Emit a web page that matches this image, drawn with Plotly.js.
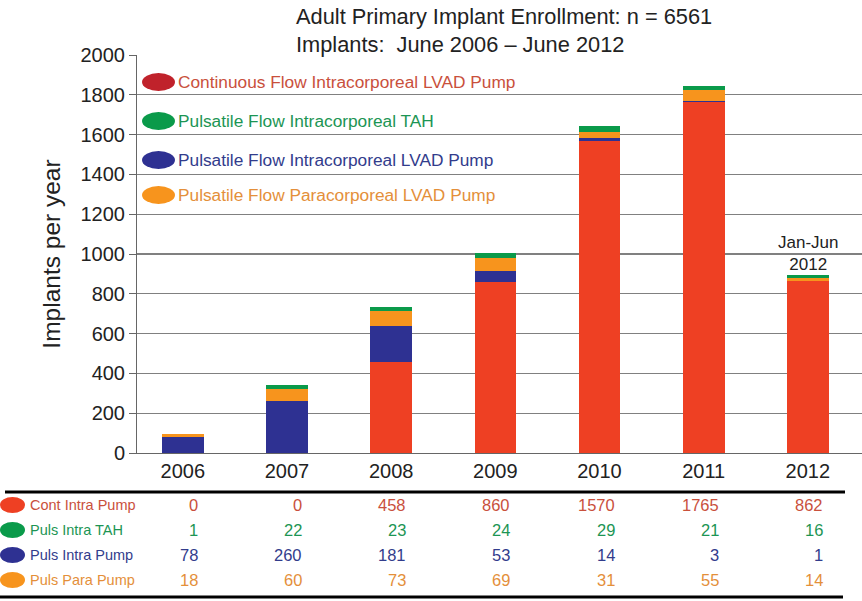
<!DOCTYPE html>
<html><head><meta charset="utf-8">
<script src="https://cdn.plot.ly/plotly-3.0.1.min.js"></script>
<style>html,body{margin:0;padding:0;background:#fff}</style>
</head><body>
<div id="chart" style="width:862px;height:601px"></div>
<script>
const years = ['2006','2007','2008','2009','2010','2011','2012'];
const contIntraPump = [0, 0, 458, 860, 1570, 1765, 862];
const pulsIntraTAH = [1, 22, 23, 24, 29, 21, 16];
const pulsIntraPump = [78, 260, 181, 53, 14, 3, 1];
const pulsParaPump = [18, 60, 73, 69, 31, 55, 14];
const legendNames = ['Continuous Flow Intracorporeal LVAD Pump','Pulsatile Flow Intracorporeal TAH','Pulsatile Flow Intracorporeal LVAD Pump','Pulsatile Flow Paracorporeal LVAD Pump'];
const rowNames = ['Cont Intra Pump','Puls Intra TAH','Puls Intra Pump','Puls Para Pump'];

const W = 862, H = 601, L = 137, R = 0, T = 55, B = 148;
const pw = W - L - R, ph = H - T - B;
const px = p => (p - L) / pw;
const py = p => (H - B - p) / ph;

const barCol = {red:'#EE4023', blue:'#2E3192', orange:'#F7941D', green:'#0A9A4A'};
const txtCol = {red:'#C9503C', green:'#1C9554', blue:'#323C8C', orange:'#E48F3A'};
const legDot = ['#C0222B', '#0A9A4A', '#2E3192', '#F7941D'];
const tabDot = ['#EE4023', '#0A9A4A', '#2E3192', '#F7941D'];
const rowTxt = [txtCol.red, txtCol.green, txtCol.blue, txtCol.orange];

const traces = [
  {type:'bar', x:years, y:contIntraPump, name:rowNames[0], marker:{color:barCol.red}},
  {type:'bar', x:years, y:pulsIntraPump, name:rowNames[2], marker:{color:barCol.blue}},
  {type:'bar', x:years, y:pulsParaPump, name:rowNames[3], marker:{color:barCol.orange}},
  {type:'bar', x:years, y:pulsIntraTAH, name:rowNames[1], marker:{color:barCol.green}}
];

const font = "'Liberation Sans', Arial, sans-serif";
const annotations = [];
const shapes = [];

// title
annotations.push({xref:'paper', yref:'paper', x:px(294), y:py(2), xanchor:'left', yanchor:'top', align:'left',
  text:'Adult Primary Implant Enrollment: n = 6561<br>Implants:  June 2006 – June 2012', showarrow:false,
  font:{family:font, size:21.8, color:'#222'}});

// Jan-Jun note
annotations.push({xref:'x', yref:'paper', x:years.indexOf('2012'), y:py(231), xanchor:'center', yanchor:'top',
  text:'Jan-Jun<br>2012', showarrow:false, font:{family:font, size:17, color:'#222'}});

// legend
const legY = [82, 121, 160, 195];
legendNames.forEach((n, i) => {
  shapes.push({type:'circle', xref:'paper', yref:'paper', x0:px(142), x1:px(175), y0:py(legY[i]-9), y1:py(legY[i]+9),
    fillcolor:legDot[i], line:{width:0}, layer:'above'});
  annotations.push({xref:'paper', yref:'paper', x:px(176), y:py(legY[i]), xanchor:'left', yanchor:'middle',
    text:n, showarrow:false, font:{family:font, size:17.3, color:rowTxt[i]}});
});

// table
const rowY = [505, 530, 555, 580];
const rowVals = [contIntraPump, pulsIntraTAH, pulsIntraPump, pulsParaPump];
rowNames.forEach((n, i) => {
  shapes.push({type:'circle', xref:'paper', yref:'paper', x0:px(0), x1:px(25), y0:py(rowY[i]-8), y1:py(rowY[i]+8),
    fillcolor:tabDot[i], line:{width:0}});
  annotations.push({xref:'paper', yref:'paper', x:px(28), y:py(rowY[i]), xanchor:'left', yanchor:'middle',
    text:n, showarrow:false, font:{family:font, size:14.5, color:rowTxt[i]}});
  rowVals[i].forEach((v, j) => {
    annotations.push({xref:'x', yref:'paper', x:j, xshift:17, y:py(rowY[i]), xanchor:'right', yanchor:'middle',
      text:String(v), showarrow:false, font:{family:font, size:16.5, color:rowTxt[i]}});
  });
});
shapes.push({type:'line', xref:'paper', yref:'paper', x0:px(5), x1:px(845), y0:py(492), y1:py(492), line:{color:'#000', width:3}});
shapes.push({type:'line', xref:'paper', yref:'paper', x0:px(0), x1:px(843), y0:py(597), y1:py(597), line:{color:'#000', width:3}});

const layout = {
  width:W, height:H, margin:{l:L, r:R, t:T, b:B, pad:0},
  paper_bgcolor:'#fff', plot_bgcolor:'#fff',
  barmode:'stack', bargap:0.6, showlegend:false,
  font:{family:font, color:'#222'},
  xaxis:{type:'category', range:[-0.44, 6.52], showgrid:false, ticks:'', showline:true, linecolor:'#666', linewidth:1,
    tickfont:{family:font, size:20, color:'#222'}, zeroline:false},
  yaxis:{range:[0, 2000], tickvals:[0,200,400,600,800,1000,1200,1400,1600,1800,2000], showgrid:true, gridcolor:'#808080', gridwidth:1.2,
    ticks:'outside', ticklen:7, tickcolor:'#666', showline:true, linecolor:'#666', linewidth:1, zeroline:false,
    tickfont:{family:font, size:20, color:'#222'},
    title:{text:'Implants per year', font:{family:font, size:24.5, color:'#222'}, standoff:12}},
  annotations:annotations, shapes:shapes
};
Plotly.newPlot('chart', traces, layout, {displayModeBar:false, staticPlot:true});
</script>
</body></html>
